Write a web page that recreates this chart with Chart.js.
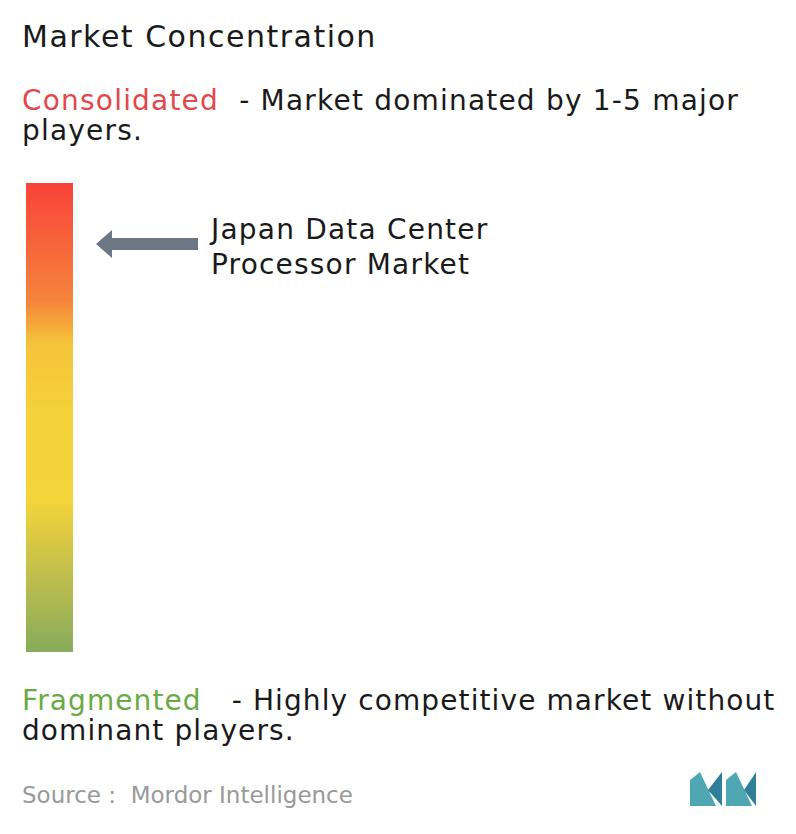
<!DOCTYPE html>
<html><head><meta charset="utf-8">
<script src="https://cdn.jsdelivr.net/npm/chart.js@4/dist/chart.umd.min.js"></script>
<style>
body{margin:0;width:796px;height:834px;background:#fff;font-family:"DejaVu Sans",sans-serif;position:relative;overflow:hidden}
.t{position:absolute;white-space:nowrap;color:#1a1a1a}
</style></head><body>
<div class="t" style="left:22px;top:19px;font-size:30px;line-height:36px;letter-spacing:1.5px">Market Concentration</div>
<div class="t" style="left:22px;top:86px;font-size:28px;line-height:30px;letter-spacing:1.2px"><span style="color:#e2474b">Consolidated</span>&nbsp; - Market dominated by 1-5 major<br>players.</div>
<div class="t" style="left:211px;top:212px;font-size:28px;line-height:35px;letter-spacing:1.2px">Japan Data Center<br>Processor Market</div>
<div class="t" style="left:22px;top:686px;font-size:28px;line-height:30px;letter-spacing:1.1px"><span style="color:#6aaa45">Fragmented</span>&nbsp;&nbsp; - Highly competitive market without<br>dominant players.</div>
<div class="t" style="left:22px;top:782px;font-size:23px;color:#999">Source :&nbsp; Mordor Intelligence</div>
<svg style="position:absolute;left:0;top:0" width="796" height="834">
<polygon points="96,244 112,230 112,238 198,238 198,250 112,250 112,258" fill="#6b7785"/>
<polygon points="690,806 690,780 700,772 716,806" fill="#4fa7b4"/>
<polygon points="708,790 722,772 722,806" fill="#2f7f98"/>
<polygon points="726,806 726,780 736,772 752,806" fill="#4fa7b4"/>
<polygon points="744,790 756,772 756,806" fill="#2f7f98"/>
</svg>
<canvas id="c" width="47" height="469" style="position:absolute;left:26px;top:183px"></canvas>
<script>
const categories=["Market concentration"];
const barRange=[[0,100]];
new Chart(document.getElementById('c'),{type:'bar',
data:{labels:categories,datasets:[{data:barRange,barPercentage:1,categoryPercentage:1,borderWidth:0,
backgroundColor:(ctx)=>{const a=ctx.chart.chartArea;if(!a)return '#f5d23a';
const g=ctx.chart.ctx.createLinearGradient(0,a.top,0,a.bottom);
g.addColorStop(0,'#f9423a');g.addColorStop(0.25,'#f6843b');g.addColorStop(0.34,'#f5c33a');
g.addColorStop(0.5,'#f5d23a');g.addColorStop(0.68,'#f3d43a');g.addColorStop(0.85,'#bcbc4e');g.addColorStop(1,'#86ac5c');return g;}}]},
options:{responsive:false,animation:false,layout:{padding:0},
plugins:{legend:{display:false},tooltip:{enabled:false}},
scales:{x:{display:false},y:{display:false,min:0,max:100}}}});
</script>
</body></html>
